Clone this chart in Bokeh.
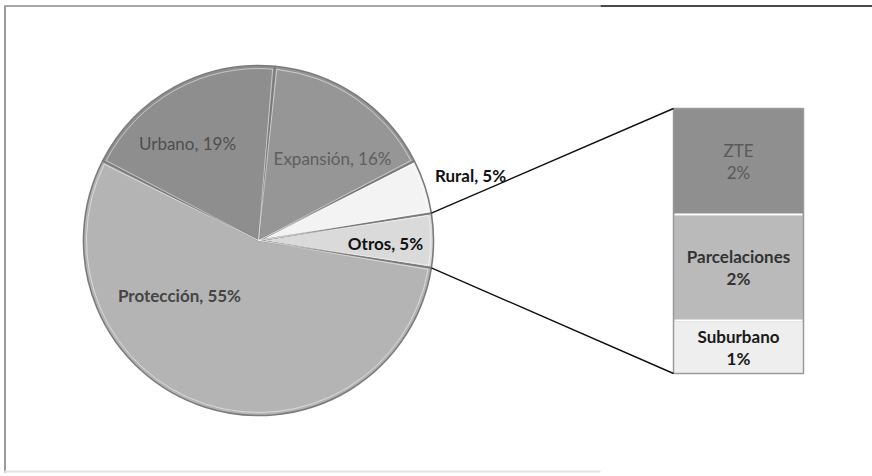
import math
from bokeh.plotting import figure
from bokeh.models import Range1d
from bokeh.core.properties import value
from bokeh.embed import file_html
from bokeh.resources import INLINE

# ---- data ----
pie_names = ["Otros", "Rural", "Expansión", "Urbano", "Protección"]
pie_values = [5, 5, 16, 19, 55]
pie_colors = ["#dadada", "#f3f3f3", "#969696", "#8e8e8e", "#b4b4b4"]
pie_text_colors = ["#111111", "#111111", "#5e5e5e", "#4e4e4e", "#454545"]
pie_text_styles = ["bold", "bold", "normal", "normal", "bold"]

bar_names = ["Suburbano", "Parcelaciones", "ZTE"]
bar_values = [1, 2, 2]
bar_colors = ["#eeeeee", "#bababa", "#8f8f8f"]
bar_text_colors = ["#1a1a1a", "#333333", "#5a5a5a"]
bar_text_styles = ["bold", "bold", "normal"]

# ---- layout (pixels) ----
W, H = 872, 476
cx, cy, R = 258, 236, 175
bar_x0, bar_x1, bar_y0, bar_h = 673, 803, 103, 265
# label offsets from the pie centre
pie_label_offsets = [(127, -3), (212, 65), (74, 82), (-71, 97), (-79, -55)]
FONT = "Lato"
FS = "17px"

p = figure(width=W, height=H, x_range=Range1d(0, W), y_range=Range1d(0, H),
           x_axis_type=None, y_axis_type=None, output_backend="svg",
           toolbar_location=None, min_border=0)
p.grid.visible = False
p.outline_line_color = None
p.background_fill_color = "white"
p.border_fill_color = "white"

# chart frame (left, top, faint bottom)
p.line([4.5, 4.5], [4, H - 5], line_color="#9c9c9c", line_width=2)
p.line([4, 600], [H - 5.5, H - 5.5], line_color="#a8a8a8", line_width=2)
p.line([600, W], [H - 5.5, H - 5.5], line_color="#4a4a4a", line_width=2)
p.line([4, 600], [5, 5], line_color="#e4e4e4", line_width=2)

# ---- pie ----
total = sum(pie_values)
starts, ends = [], []
a = -pie_values[0] / total * math.pi
for v in pie_values:
    starts.append(a)
    a += v / total * 2 * math.pi
    ends.append(a)

p.wedge(x=[cx] * len(pie_values), y=[cy] * len(pie_values), radius=R,
        start_angle=starts, end_angle=ends, fill_color=pie_colors,
        line_color="#7b7b7b", line_width=1.6)
# subtle highlight inside slice edges
p.wedge(x=[cx] * len(pie_values), y=[cy] * len(pie_values), radius=R - 3,
        start_angle=[s + 0.012 for s in starts], end_angle=[e - 0.012 for e in ends],
        fill_color=None, line_color="white", line_alpha=0.5, line_width=1)

for i, (name, v) in enumerate(zip(pie_names, pie_values)):
    dx, dy = pie_label_offsets[i]
    p.text(x=[cx + dx], y=[cy + dy], text=[f"{name}, {v}%"],
           text_align="center", text_baseline="middle",
           text_font=value(FONT), text_font_size=FS,
           text_font_style=pie_text_styles[i], text_color=pie_text_colors[i])

# ---- bar ----
bsum = sum(bar_values)
bottoms, tops = [], []
b = bar_y0
for v in bar_values:
    bottoms.append(b)
    b += v / bsum * bar_h
    tops.append(b)

p.quad(left=[bar_x0] * len(bar_values), right=[bar_x1] * len(bar_values),
       bottom=bottoms, top=tops, fill_color=bar_colors,
       line_color="#9a9a9a", line_width=1.5)
for i in range(1, len(bar_values)):
    p.line([bar_x0 + 1, bar_x1 - 1], [bottoms[i], bottoms[i]],
           line_color="white", line_width=2)

bar_cx = (bar_x0 + bar_x1) / 2
for i, (name, v) in enumerate(zip(bar_names, bar_values)):
    mid = (bottoms[i] + tops[i]) / 2
    for k, t in enumerate([name, f"{v}%"]):
        p.text(x=[bar_cx], y=[mid + 11 - 22 * k], text=[t],
               text_align="center", text_baseline="middle",
               text_font=value(FONT), text_font_size=FS,
               text_font_style=bar_text_styles[i], text_color=bar_text_colors[i])

# ---- connector lines ----
for ang, by in [(ends[0], tops[-1]), (starts[0], bottoms[0])]:
    px = cx + R * math.cos(ang)
    py = cy + R * math.sin(ang)
    p.line([px, bar_x0], [py, by], line_color="#111111", line_width=1.4)

open("out.html", "w").write(file_html(p, INLINE))
